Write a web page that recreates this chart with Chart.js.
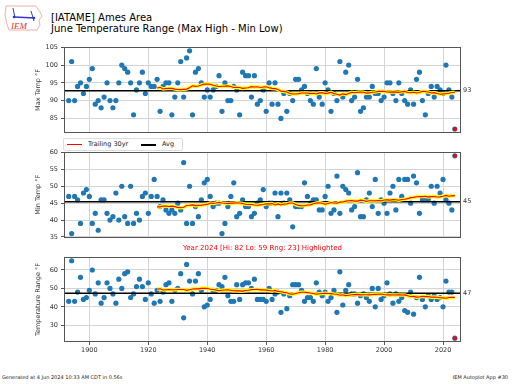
<!DOCTYPE html>
<html><head><meta charset="utf-8">
<script src="https://cdn.jsdelivr.net/npm/chart.js@4/dist/chart.umd.min.js"></script>
<style>
body{margin:0;width:512px;height:384px;background:#fff;position:relative;overflow:hidden;font-family:"DejaVu Sans",sans-serif;}
canvas{position:absolute;left:0;}
.t{position:absolute;white-space:nowrap;color:#000;}
</style></head><body>
<svg style="position:absolute;left:3px;top:3px" width="42" height="30" viewBox="0 0 42 30">
<path d="M3 3 L33 3 L35 6 L37 9 L39 13 L36 17 L37 22 L34 27 L6 27 L4 21 L2 12 Z" fill="#fff" stroke="#e99" stroke-width="0.8"/>
<line x1="10" y1="5" x2="12" y2="15" stroke="#33c" stroke-width="1"/>
<line x1="11" y1="14" x2="32" y2="15" stroke="#33c" stroke-width="1.4"/>
<line x1="28" y1="8" x2="31" y2="18" stroke="#33c" stroke-width="1"/>
<circle cx="11" cy="14" r="1.3" fill="#33c"/><circle cx="31" cy="15" r="1.3" fill="#33c"/>
<text x="8" y="25.5" font-family="Liberation Serif" font-style="italic" font-size="9" fill="#d33">IEM</text>
</svg>
<div class="t" style="left:51px;top:12px;font-size:10px;line-height:12px;">[IATAME] Ames Area</div>
<div class="t" style="left:51px;top:23px;font-size:10px;line-height:12px;">June Temperature Range (Max High - Min Low)</div>
<canvas id="c1" width="512" height="100" style="top:40px"></canvas>
<canvas id="c2" width="512" height="100" style="top:145px"></canvas>
<canvas id="c3" width="512" height="110" style="top:250px"></canvas>
<div style="position:absolute;left:63px;top:138px;width:118px;height:11px;background:#fff;border:1px solid #ddd;border-radius:2px;z-index:5;font-size:6.5px;line-height:11px;color:#222;">
  <span style="position:absolute;left:3px;top:5px;width:15px;height:1.2px;background:#f00;"></span>
  <span style="position:absolute;left:24px;top:0;">Trailing 30yr</span>
  <span style="position:absolute;left:77px;top:5px;width:15px;height:1.5px;background:#000;"></span>
  <span style="position:absolute;left:98px;top:0;">Avg</span>
</div>
<div class="t" style="left:64px;width:397px;top:243px;text-align:center;font-size:7px;line-height:10px;color:#f00;">Year 2024 [Hi: 82 Lo: 59 Rng: 23] Highlighted</div>
<div class="t" style="left:2px;top:374px;font-size:5px;color:#222;">Generated at 4 Jun 2024 10:33 AM CDT in 0.56s</div>
<div class="t" style="right:4px;top:374px;font-size:5px;color:#222;">IEM Autoplot App #30</div>
<script>
const firstYear = 1893;
const maxHigh = [90,101,90,94,95,92,94,96,99,89, 90,88,91,95,90,88,90,95,100,99, 98,95,86,93,95,98,92,95,94,94,
 96,87,94,95,95,86,91,95,101,91, 102,104,86,98,99,95,91,93,91,93, 94,97,87,95,90,90,94,93,86,98,
 97,97,91,97,89,90,93,87,95,89, 95,89,85,92,87,92,90,96,96,93, 94,92,90,89,99,91,89,95,93,87,
 92,90,101,91,98,100,90,91,96,87, 88,91,91,94,92,92,90,91,95,95, 92,90,95,92,90,89,93,89,96,98,
 90,86,92,94,91,94,93,92,100,93, 91,82];
const minLow = [47,36,47,46,39,48,49,47,39,42, 37,46,46,42,40,41,48,40,50,41, 39,50,39,42,40,47,48,42,47,52,
 47,44,46,43,42,43,42,45,43,57, 39,50,39,44,41,46,51,52,47,44, 45,45,36,39,44,47,51,41,42,46,
 44,44,41,42,45,46,49,44,45,45, 48,41,48,45,48,46,38,44,44,44, 51,47,45,46,46,43,43,47,50,42,
 43,53,42,50,49,48,43,44,54,41, 41,46,48,44,52,42,46,45,42,48, 50,43,52,47,52,52,45,53,51,42,
 46,46,46,50,45,50,48,52,46,45, 43,59];
const tempRange = [43,65,43,48,56,44,45,49,60,47, 53,42,45,53,50,47,42,55,50,58, 59,45,47,51,55,51,44,53,47,42,
 49,43,48,52,53,43,49,50,58,34, 63,54,47,54,58,49,40,41,44,49, 49,52,51,56,46,43,43,52,44,52,
 53,53,50,55,44,44,44,43,50,44, 47,48,37,47,39,46,52,52,52,49, 43,45,45,43,53,48,46,48,43,45,
 49,37,59,41,49,52,47,47,42,46, 47,45,43,50,40,50,44,46,53,47, 42,47,43,45,38,37,48,36,45,56,
 44,40,46,44,46,44,45,40,54,48, 48,23];
const years = maxHigh.map((_, i) => firstYear + i);
const yearTicks = [1900,1920,1940,1960,1980,2000,2020];
const maxTicks = [85,90,95,100,105];
const minTicks = [35,40,45,50,55,60];
const rangeTicks = [30,40,50,60];
const highlightYear = 2024;

const X0 = 1891.4, X1 = 2026.1;
const FONT = '"DejaVu Sans", sans-serif';

function trailing(vals){
  const out=[];
  for(let i=30;i<vals.length;i++){
    let s=0; for(let j=i-30;j<i;j++) s+=vals[j];
    out.push({x:years[i], y:s/30});
  }
  return out;
}
function mean(v){return v.reduce((a,b)=>a+b,0)/v.length;}

const framePlugin = {
  id:'frame',
  afterDraw(c, args, opts){
    const a=c.chartArea, ctx=c.ctx;
    ctx.save();
    ctx.strokeStyle='#555'; ctx.lineWidth=1;
    ctx.strokeRect(Math.round(a.left)+0.5, Math.round(a.top)+0.5, Math.round(a.right-a.left)-1, Math.round(a.bottom-a.top)-1);
    const yv = c.scales.y.getPixelForValue(opts.avg);
    ctx.fillStyle='#333'; ctx.font='6.5px '+FONT; ctx.textBaseline='middle'; ctx.textAlign='left';
    ctx.fillText(String(Math.round(opts.avg)), a.right+2, yv);
    ctx.restore();
  }
};

function panel(id, vals, ticks, ymin, ymax, title, showX, padTop, padBottom){
  const pts = vals.map((v,i)=>({x:years[i], y:v}));
  const trail = trailing(vals);
  const avg = mean(vals);
  const hi = years.indexOf(highlightYear);
  const xScale = {
    type:'linear', min:X0, max:X1,
    afterBuildTicks:s=>{s.ticks=yearTicks.map(v=>({value:v}));},
    ticks:{display:showX, font:{size:6.5,family:FONT}, color:'#333', padding:1, maxRotation:0, callback:v=>String(v)},
    grid:{color:'#d4d4d4', lineWidth:1, drawTicks:showX, tickLength:3, tickColor:'#555'},
    border:{display:false}
  };
  xScale.afterFit = s=>{s.height = showX ? 18 : 0;};
  return new Chart(document.getElementById(id), {
    type:'scatter',
    data:{datasets:[
      {data:[pts[hi]], backgroundColor:'#ff0000', pointRadius:2, borderWidth:0, order:0},
      {data:trail, showLine:true, borderColor:'#ff0000', borderWidth:1.1, pointRadius:0, order:1},
      {data:trail, showLine:true, borderColor:'#ffff00', borderWidth:3.5, pointRadius:0, order:2},
      {data:[{x:X0,y:avg},{x:X1,y:avg}], showLine:true, borderColor:'#000', borderWidth:1.5, pointRadius:0, order:3},
      {data:pts, backgroundColor:'#1f77b4', pointRadius:2.6, borderWidth:0, order:4}
    ]},
    options:{
      animation:false, responsive:false, devicePixelRatio:1, events:[],
      layout:{padding:{left:0,right:51,top:padTop,bottom:padBottom}},
      plugins:{legend:{display:false}, tooltip:{enabled:false}, frame:{avg:avg}},
      scales:{
        x:xScale,
        y:{type:'linear', min:ymin, max:ymax,
          afterBuildTicks:s=>{s.ticks=ticks.map(v=>({value:v}));},
          ticks:{font:{size:6.5,family:FONT}, color:'#333', padding:3, callback:v=>String(v)},
          grid:{color:'#d4d4d4', lineWidth:1, tickLength:3, tickColor:'#555'},
          border:{display:false},
          title:{display:true, text:title, font:{size:6.5,family:FONT}, color:'#333', padding:{top:34,bottom:0}},
          afterFit:s=>{s.width=64;}
        }
      }
    },
    plugins:[framePlugin]
  });
}

panel('c1', maxHigh, maxTicks, 80.9, 105.1, 'Max Temp \u00b0F', false, 6, 7);
panel('c2', minLow, minTicks, 34.85, 60.15, 'Min Temp \u00b0F', false, 6, 7.5);
panel('c3', tempRange, rangeTicks, 20.9, 67.1, 'Temperature Range \u00b0F', true, 6, 0);
</script>
</body></html>
